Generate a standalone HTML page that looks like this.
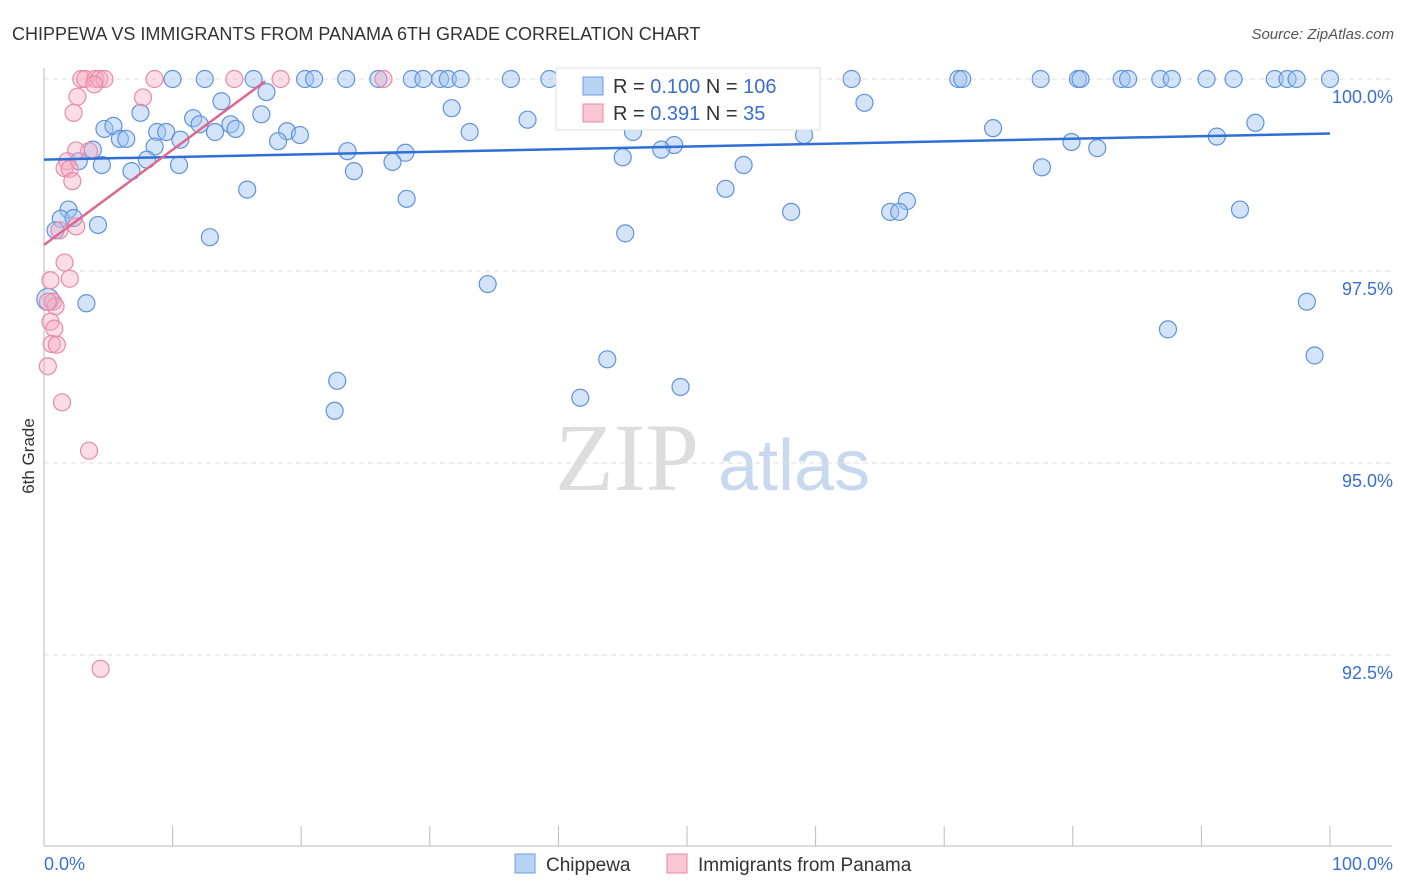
<!DOCTYPE html>
<html><head><meta charset="utf-8"><style>
body{margin:0;background:#fff;font-family:"Liberation Sans",sans-serif}
</style></head><body>
<svg width="1406" height="892" style="display:block">
<text x="12" y="40" font-size="18" fill="#333">CHIPPEWA VS IMMIGRANTS FROM PANAMA 6TH GRADE CORRELATION CHART</text>
<text x="1394" y="39" font-size="15" fill="#555" text-anchor="end" font-style="italic">Source: ZipAtlas.com</text>
<text x="34" y="456" font-size="17" fill="#333" transform="rotate(-90 34 456)" text-anchor="middle">6th Grade</text>
<g><text x="555" y="490" font-size="96" fill="#ddd" font-family="Liberation Serif,serif">ZIP</text><text x="718" y="490" font-size="72" fill="#c8d8ee">atlas</text></g>
<g id="grid"></g><g id="axes"></g><g id="pts"></g><g id="lines"></g>
<g>
<rect x="556" y="68" width="264" height="62" fill="#fff" stroke="#ddd"/>
<rect x="583" y="77" width="20" height="18" fill="#b8d2f3" stroke="#6f9fdf"/>
<text x="613" y="93" font-size="20" fill="#333">R = <tspan fill="#3a6fd0">0.100</tspan>   N = <tspan fill="#3a6fd0">106</tspan></text>
<rect x="583" y="104" width="20" height="18" fill="#f8c6d4" stroke="#e88aa6"/>
<text x="613" y="120" font-size="20" fill="#333">R =  <tspan fill="#3a6fd0">0.391</tspan>   N =   <tspan fill="#3a6fd0">35</tspan></text>
</g>
<g>
<rect x="515" y="854" width="20" height="19" fill="#b8d2f3" stroke="#6f9fdf"/>
<text x="546" y="871" font-size="19" fill="#333">Chippewa</text>
<rect x="667" y="854" width="20" height="19" fill="#f8c6d4" stroke="#e88aa6"/>
<text x="698" y="871" font-size="19" fill="#333">Immigrants from Panama</text>
</g>
</svg>
<script>
const yTicks=[100,97.5,95,92.5];
const yTickLabels=["100.0%","97.5%","95.0%","92.5%"];
const blueX=[10,12.5,16.3,20.3,21,23.5,26,28.6,29.5,30.8,31.4,32.4,36.3,39.3,46.3,50.1,51.6,55.8,62.8,71.1,71.4,77.5,80.4,80.6,83.8,84.3,86.8,87.7,90.4,92.5,95.7,96.7,97.4,100,
17.3,13.8,63.8,31.7,7.5,16.9,37.6,11.6,12.1,4.7,5.4,14.5,14.9,8.8,9.5,13.3,18.9,33.1,45.8,73.8,94.2,5.9,6.4,19.9,10.6,18.2,59.1,91.2,79.9,81.9,49,48,3.8,8.6,23.6,28.1,45,2.7,27.1,8,4.5,10.5,54.4,77.6,6.8,24.1,15.8,53,28.2,67.1,1.9,58.1,65.8,66.5,93,1.3,2.3,0.9,45.2,12.9,34.5,3.3,98.2,87.4,98.8,43.8,49.5,22.8,41.7,22.6,0.3,4.2];
const blueY=[100,100,100,100,100,100,100,100,100,100,100,100,100,100,100,100,100,100,100,100,100,100,100,100,100,100,100,100,100,100,100,100,100,100,
99.83,99.71,99.69,99.62,99.56,99.54,99.47,99.49,99.41,99.35,99.39,99.41,99.35,99.31,99.31,99.31,99.32,99.31,99.31,99.36,99.43,99.22,99.22,99.27,99.21,99.19,99.27,99.25,99.18,99.1,99.14,99.08,99.08,99.12,99.06,99.04,98.98,98.93,98.92,98.95,98.88,98.88,98.88,98.85,98.8,98.8,98.56,98.57,98.44,98.41,98.3,98.27,98.27,98.27,98.3,98.18,98.19,98.03,97.99,97.94,97.33,97.08,97.1,96.74,96.4,96.35,95.99,96.07,95.85,95.68,97.13,98.1];
const pinkX=[2.9,3.2,4,4.3,4.7,8.6,14.8,18.4,26.4,3.9,2.6,7.7,2.3,3.5,2.5,1.8,1.6,2,2.2,1.2,2.5,1.6,0.5,2,0.7,0.9,0.5,0.8,0.6,1,0.3,1.4,3.5,4.4,0.3];
const pinkY=[100,100,100,100,100,100,100,100,100,99.93,99.77,99.76,99.56,99.06,99.07,98.93,98.84,98.83,98.67,98.03,98.08,97.61,97.38,97.4,97.1,97.04,96.84,96.75,96.55,96.54,96.26,95.79,95.16,92.32,97.1];
const blueLine=[[0,98.95],[100,99.29]];
const pinkLine=[[0,97.84],[17.2,99.97]];
const NS="http://www.w3.org/2000/svg";
const X=v=>44+v*12.86, Y=v=>79+(100-v)*76.8;
function mk(t,a,p){const e=document.createElementNS(NS,t);for(const k in a)e.setAttribute(k,a[k]);p.appendChild(e);return e;}
const grid=document.getElementById('grid'),axes=document.getElementById('axes');
yTicks.forEach((t,i)=>{
 const l=mk('line',{x1:44,x2:1392,y1:Y(t),y2:Y(t),stroke:'#ddd','stroke-dasharray':'5,4'},grid);
 
 
 const tx=mk('text',{x:1393,y:Y(t)+24,'font-size':18,fill:'#3a6fd0','text-anchor':'end'},axes);
 tx.textContent=yTickLabels[i];
 
 
});
const ax=mk('line',{x1:44,x2:44,y1:68,y2:846,stroke:'#bbb'},axes);


const bx=mk('line',{x1:44,x2:1392,y1:846,y2:846,stroke:'#bbb'},axes);


for(let i=1;i<=10;i++){const tk=mk('line',{x1:X(i*10),x2:X(i*10),y1:826,y2:846,stroke:'#bbb'},axes);
 
 }
[[0,'0.0%','start',44],[100,'100.0%','end',1393]].forEach(a=>{const t=mk('text',{x:a[3],y:870,'font-size':18,fill:'#3a6fd0','text-anchor':a[2]},axes);t.textContent=a[1];
 
 });
const pts=document.getElementById('pts');
blueX.forEach((v,i)=>{const c=mk('circle',{cx:X(v),cy:Y(blueY[i]),r:i==blueX.length-2?11:8.5,fill:'rgba(160,195,240,0.45)',stroke:'#5f93db','stroke-width':1.2},pts);
 
 });
pinkX.forEach((v,i)=>{const c=mk('circle',{cx:X(v),cy:Y(pinkY[i]),r:8.5,fill:'rgba(245,170,195,0.4)',stroke:'#e88aa6','stroke-width':1.2},pts);
 
 });
const lines=document.getElementById('lines');
const b=mk('line',{x1:X(blueLine[0][0]),y1:Y(blueLine[0][1]),x2:X(blueLine[1][0]),y2:Y(blueLine[1][1]),stroke:'#2f6fd6','stroke-width':2.5},lines);


const p=mk('line',{x1:X(pinkLine[0][0]),y1:Y(pinkLine[0][1]),x2:X(pinkLine[1][0]),y2:Y(pinkLine[1][1]),stroke:'#e06690','stroke-width':2.5},lines);


</script>
</body></html>
